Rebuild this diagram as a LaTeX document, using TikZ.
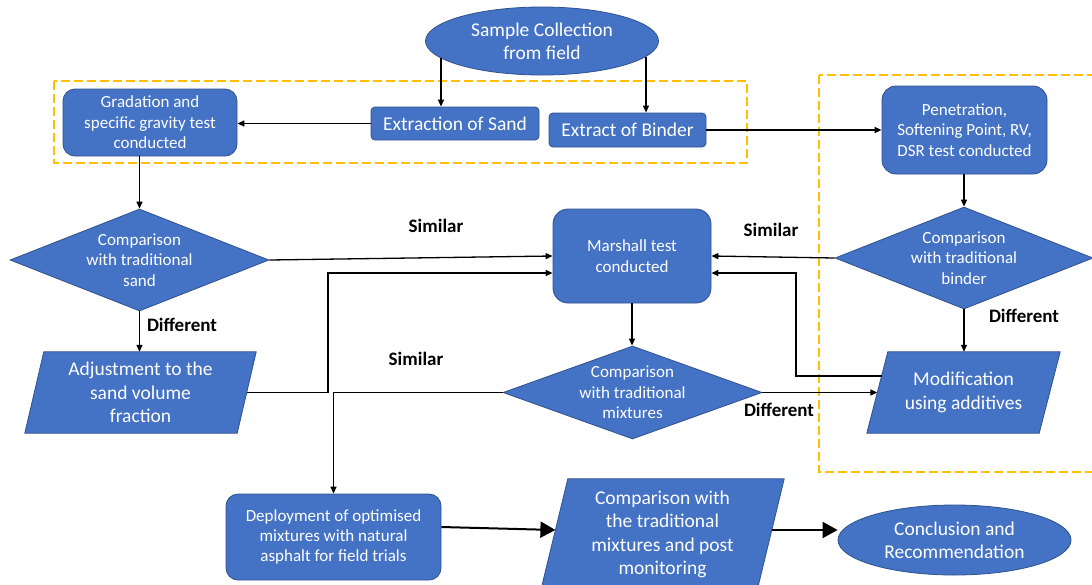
\documentclass[tikz,border=0pt]{standalone}
\usepackage{fontspec}
\setmainfont{Carlito}
\usetikzlibrary{shapes.geometric,arrows.meta,calc}
\pgfdeclarelayer{background}
\pgfsetlayers{background,main}
\definecolor{boxblue}{HTML}{4472C4}
\definecolor{boxedge}{HTML}{2F528F}
\definecolor{gold}{HTML}{FFC000}
\begin{document}
\begin{tikzpicture}[x=1pt,y=-1pt,
  big/.style={font=\fontsize{19.5}{23.4}\selectfont},
  small/.style={font=\fontsize{17}{20.4}\selectfont},
  lbl/.style={font=\fontsize{19}{22}\selectfont\bfseries, inner sep=0pt},
  rbox/.style={draw=boxedge, fill=boxblue, line width=0.8pt, text=white, align=center, inner sep=0pt},
  ellip/.style={ellipse, draw=boxedge, fill=boxblue, line width=0.8pt, text=white, align=center, inner sep=0pt},
  dia/.style={diamond, draw=boxedge, fill=boxblue, line width=0.8pt, inner sep=0pt, minimum width=259pt, minimum height=102pt},
  dtext/.style={small, text=white, align=center, inner sep=0pt},
  parabox/.style={text=white, align=center, inner sep=0pt},
  parafill/.style={draw=boxedge, fill=boxblue, line width=0.8pt},
  goldbox/.style={draw=gold, line width=2pt, dash pattern=on 9pt off 4pt},
  arr/.style={draw=black, line width=1.3pt, -{Triangle[length=7pt,width=6pt]}},
  bigarr/.style={draw=black, line width=2pt, -{Triangle[length=15pt,width=16pt]}}
]
\useasboundingbox (0,0) rectangle (1092,584);

% nodes
\node[ellip, big, minimum width=233pt, minimum height=68pt] (sample) at (542,41) {Sample Collection\\from field};
\node[rbox, small, rounded corners=12pt, minimum width=174pt, minimum height=67pt] (grad) at (150,122.5) {Gradation and\\specific gravity test\\conducted};
\node[rbox, big, rounded corners=4pt, minimum width=168pt, minimum height=33pt] (sand) at (455,123.5) {Extraction of Sand};
\node[rbox, big, rounded corners=4pt, minimum width=157pt, minimum height=34pt] (binder) at (627.5,130) {Extract of Binder};
\node[rbox, small, rounded corners=14pt, minimum width=165pt, minimum height=88pt] (pen) at (964.5,130) {Penetration,\\Softening Point, RV,\\DSR test conducted};

\node[dia] (d1) at (139.5,260) {};
\node[dtext] (d1t) at (d1.center) {Comparison\\with traditional\\sand};
\node[dia, minimum width=258pt] (d2) at (964,258) {};
\node[dtext] (d2t) at (d2.center) {Comparison\\with traditional\\binder};
\node[rbox, small, rounded corners=15pt, minimum width=158pt, minimum height=94pt] (marshall) at (632,256) {Marshall test\\conducted};
\node[dia, minimum height=93pt] (d3) at (632.5,392.5) {};
\node[dtext] (d3t) at (d3.center) {Comparison\\with traditional\\mixtures};

\node[parabox, big, minimum width=231pt, minimum height=81pt] (adj) at (140.5,392.5) {Adjustment to the\\sand volume\\fraction};
\node[parabox, big, minimum width=193pt, minimum height=81pt] (mod) at (963.5,392.5) {Modification\\using additives};
\node[rbox, small, rounded corners=12pt, minimum width=215pt, minimum height=86pt] (deploy) at (333.5,537) {Deployment of optimised\\mixtures with natural\\asphalt for field trials};
\node[parabox, big, minimum width=243pt, minimum height=111pt] (comp) at (662.5,534.5) {Comparison with\\the traditional\\mixtures and post\\monitoring};
\node[ellip, big, minimum width=233pt, minimum height=70pt] (concl) at (954.5,540) {Conclusion and\\Recommendation};

% labels
\node[lbl] (sim1) at (436,226) {Similar};
\node[lbl] (sim2) at (416,359) {Similar};
\node[lbl] (sim3) at (771,230) {Similar};
\node[lbl] (dif1) at (182,325) {Different};
\node[lbl] (dif2) at (1024,316) {Different};
\node[lbl] (dif3) at (779,410) {Different};

% background shapes
\begin{pgfonlayer}{background}
\draw[goldbox] (54,81) rectangle (747,163);
\draw[goldbox] (819,75) rectangle (1100,472);
\path[parafill] ($(adj.north west)+(19,0)$) -- (adj.north east) -- ($(adj.south east)+(-19,0)$) -- (adj.south west) -- cycle;
\path[parafill] ($(mod.north west)+(21,0)$) -- (mod.north east) -- ($(mod.south east)+(-21,0)$) -- (mod.south west) -- cycle;
\path[parafill] ($(comp.north west)+(27,0)$) -- (comp.north east) -- ($(comp.south east)+(-27,0)$) -- (comp.south west) -- cycle;
\end{pgfonlayer}

% connector end points
\coordinate (s1) at ($(sample.center)+(-101,17)$);
\coordinate (s2) at ($(sample.center)+(104,16)$);
\coordinate (adjE) at ($(adj.east)+(-9.5,0)$);
\coordinate (modW1) at ($(mod.west)+(14.8,-16.5)$);
\coordinate (modW2) at ($(mod.west)+(10.5,0)$);
\coordinate (mW2) at ($(marshall.west)+(0,17)$);
\coordinate (mE2) at ($(marshall.east)+(0,17)$);
\coordinate (lq) at (328,0);
\coordinate (lp) at (796,0);
\coordinate (depE) at ($(deploy.east)+(0,-10)$);
\coordinate (compW) at ($(comp.west)+(14.6,-4.5)$);
\coordinate (compE) at ($(comp.east)+(-12.4,-4.5)$);

% connectors
\draw[arr] (s1) -- (s1 |- sand.north);
\draw[arr] (s2) -- (s2 |- binder.north);
\draw[arr] (sand.west) -- (sand.west -| grad.east);
\draw[arr] (binder.east) -- (pen.west);
\draw[arr] (grad.south -| d1.north) -- (d1.north);
\draw[arr] (d1.east) -- (marshall.west);
\draw[arr] (d1.south) -- (d1.south |- adj.north);
\draw[arr] (adjE) -- (adjE -| lq) -- (mW2 -| lq) -- (mW2);
\draw[arr] (pen.south -| d2.north) -- (d2.north);
\draw[arr] (d2.west) -- (marshall.east);
\draw[arr] (d2.south) -- (d2.south |- mod.north);
\draw[arr] (modW1) -- (modW1 -| lp) -- (mE2 -| lp) -- (mE2);
\draw[arr] (marshall.south) -- (marshall.south |- d3.north);
\draw[arr] (d3.east) -- (modW2);
\draw[arr] (d3.west) -| (deploy.north);
\draw[bigarr] (depE) -- (compW);
\draw[bigarr] (compE) -- (compE -| concl.west);
\end{tikzpicture}
\end{document}
